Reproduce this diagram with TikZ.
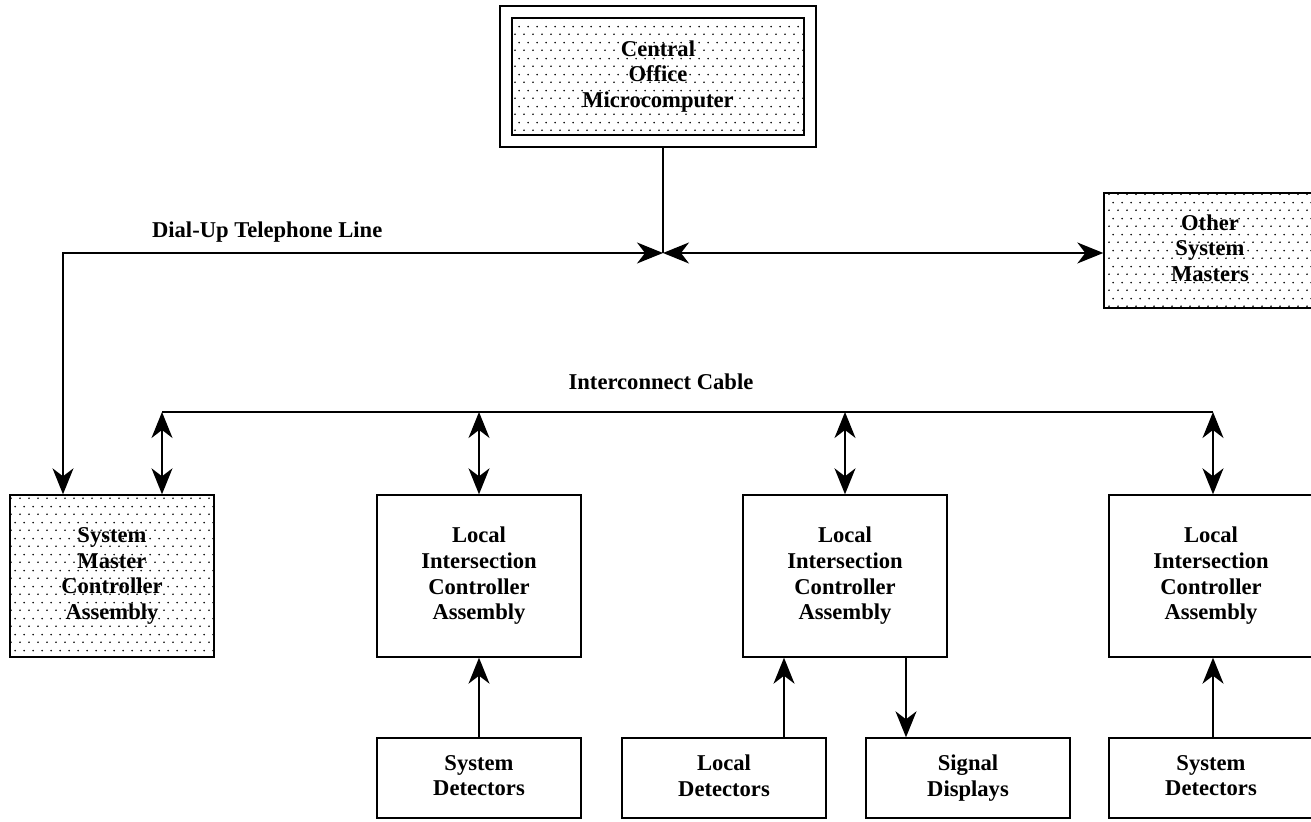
\documentclass[tikz,border=0pt]{standalone}
\usepackage{fontspec}
\setmainfont{Liberation Serif}
\usetikzlibrary{arrows.meta,patterns}
% staggered dot screen used for the shaded boxes
\pgfdeclarepatternformonly{stipple}{\pgfpointorigin}{\pgfpoint{4.5pt}{8pt}}{\pgfpoint{4.5pt}{8pt}}{%
  \pgfpathcircle{\pgfpoint{1.125pt}{2pt}}{0.5pt}%
  \pgfpathcircle{\pgfpoint{3.375pt}{6pt}}{0.5pt}%
  \pgfusepath{fill}%
}
\begin{document}
\begin{tikzpicture}[x=0.5pt,y=-0.5pt,
  lbl/.style={font=\bfseries\fontsize{11.3pt}{12.8pt}\selectfont, align=center},
  unit/.style={lbl, draw, line width=0.7pt, inner sep=0pt, minimum width=102pt, minimum height=81pt},
  small/.style={unit, minimum height=40pt},
  shaded/.style={pattern=stipple, pattern color=black},
  link/.style={line width=0.7pt},
  arr/.style={link, -{Stealth[length=13pt,width=10.5pt,inset=4pt]}},
  darr/.style={link, {Stealth[length=13pt,width=10.5pt,inset=4pt]}-{Stealth[length=13pt,width=10.5pt,inset=4pt]}},
]
\useasboundingbox (0,0) rectangle (1311,822);
\clip (0,0) rectangle (1311,822);
\fill[white] (0,0) rectangle (1311,822);

% central office
\node[draw, link, minimum width=158pt, minimum height=70.5pt] (coframe) at (658,76.5) {};
\node[unit, shaded, minimum width=146pt, minimum height=58.5pt] (co) at (658,76.5) {Central\\Office\\Microcomputer};

% other masters (runs off the right edge)
\node[unit, shaded, minimum width=106pt, minimum height=57.5pt] (om) at (1210,250.5) {Other\\System\\Masters\vphantom{y}};

% controller row
\node[unit, shaded] (sm) at (112,576) {System\\Master\\Controller\\Assembly};
\node[unit] (l1) at (479,576) {Local\\Intersection\\Controller\\Assembly};
\node[unit] (l2) at (845,576) {Local\\Intersection\\Controller\\Assembly};
\node[unit] (l3) at (1211,576) {Local\\Intersection\\Controller\\Assembly};

% field devices
\node[small] (sd1) at (479,778) {System\\Detectors\vphantom{y}};
\node[small] (ld) at (724,778) {Local\\Detectors\vphantom{y}};
\node[small] (sg) at (968,778) {Signal\\Displays};
\node[small] (sd2) at (1211,778) {System\\Detectors\vphantom{y}};

% labels
\node[lbl, anchor=base west] (dial) at (145,238) {Dial-Up Telephone Line};
\node[lbl, anchor=base] (icab) at (661,390) {Interconnect Cable};

% junction points
\coordinate (J) at (663,253);
\coordinate (dl) at (63,253);
\coordinate (icl) at (162,412);
\coordinate (icr) at (1213,412);

% telephone line
\draw[link] (coframe.south -| J) -- (J);
\draw[darr] (sm.north -| dl) -- (dl) -- (J);
\draw[darr] (J) -- (J -| om.west);

% interconnect cable
\draw[link] (icl) -- (icr);
\draw[darr] (icl) -- (sm.north -| icl);
\draw[darr] (l1.north |- icl) -- (l1.north);
\draw[darr] (l2.north |- icl) -- (l2.north);
\draw[darr] (icr) -- (l3.north -| icr);

% detectors and displays
\draw[arr] (sd1) -- (l1);
\draw[arr] ([xshift=30pt]ld.north) -- ([xshift=30pt]ld.north |- l2.south);
\draw[arr] ([xshift=-31pt]sg.north |- l2.south) -- ([xshift=-31pt]sg.north);
\draw[arr] (sd2.north -| icr) -- (l3.south -| icr);
\end{tikzpicture}
\end{document}
